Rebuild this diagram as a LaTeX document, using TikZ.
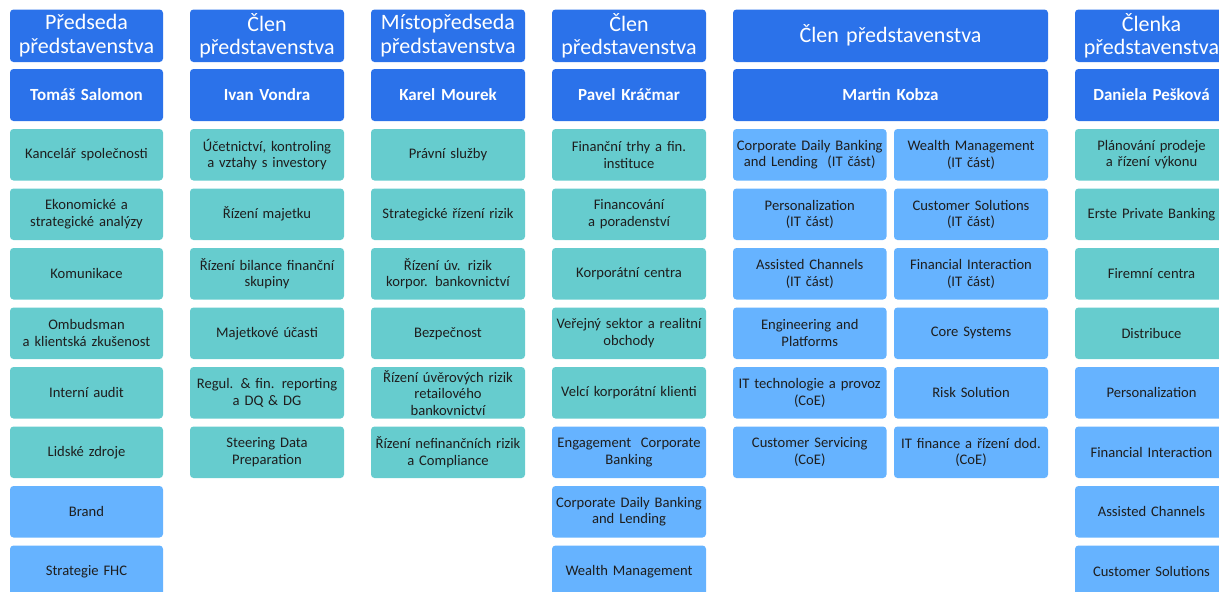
\documentclass[tikz,border=0pt]{standalone}
\usepackage{fontspec}
\setmainfont{Carlito}
\definecolor{hdblue}{RGB}{43,114,234}
\definecolor{teal}{RGB}{102,204,206}
\definecolor{lblue}{RGB}{102,179,255}
\definecolor{txt}{RGB}{30,30,30}
\tikzset{
  box/.style={rounded corners=3.5pt, inner sep=0pt, align=center, font=\fontsize{14.6}{16.6}\selectfont, text=txt},
  hdbox/.style={box, fill=hdblue, text=white, font=\fontsize{22}{23.5}\selectfont},
  namebox/.style={box, fill=hdblue, text=white, font=\fontsize{17}{19}\selectfont\bfseries},
  tbox/.style={box, fill=teal},
  lbox/.style={box, fill=lblue},
}
% \bx{name}{style}{left}{top}{width}{height}{text}
\newcommand{\bx}[7]{%
  \pgfmathsetmacro{\cxx}{#3+#5/2}\pgfmathsetmacro{\cyy}{#4+#6/2}\pgfmathsetmacro{\tw}{#5-4}%
  \node[#2, minimum width=#5pt, minimum height=#6pt, text width=\tw pt] (#1) at (\cxx,\cyy) {#7};}
\begin{document}
\begin{tikzpicture}[x=1pt,y=-1pt]
\useasboundingbox (0,0) rectangle (1219,592);
% headers
\bx{h1}{hdbox}{10}{9.5}{153}{52.5}{Předseda\\představenstva}
\bx{h2}{hdbox}{190}{9.5}{154}{52.5}{Člen\\představenstva}
\bx{h3}{hdbox}{371}{9.5}{154}{52.5}{Místopředseda\\představenstva}
\bx{h4}{hdbox}{552}{9.5}{154}{52.5}{Člen\\představenstva}
\bx{h5}{hdbox}{733}{9.5}{315}{52.5}{Člen představenstva}
\bx{h6}{hdbox}{1075}{9.5}{153}{52.5}{Členka\\představenstva}
% names
\bx{n1}{namebox}{10}{69}{153}{52}{Tomáš Salomon}
\bx{n2}{namebox}{190}{69}{154}{52}{Ivan Vondra}
\bx{n3}{namebox}{371}{69}{154}{52}{Karel Mourek}
\bx{n4}{namebox}{552}{69}{154}{52}{Pavel Kráčmar}
\bx{n5}{namebox}{733}{69}{315}{52}{Martin Kobza}
\bx{n6}{namebox}{1075}{69}{153}{52}{Daniela Pešková}
% column 1
\bx{a1}{tbox}{10}{129}{153}{51.5}{Kancelář společnosti}
\bx{a2}{tbox}{10}{188.5}{153}{51.5}{Ekonomické a\\strategické analýzy}
\bx{a3}{tbox}{10}{248}{153}{51.5}{Komunikace}
\bx{a4}{tbox}{10}{307.5}{153}{51.5}{Ombudsman\\a klientská zkušenost}
\bx{a5}{tbox}{10}{367}{153}{51.5}{Interní audit}
\bx{a6}{tbox}{10}{426.5}{153}{51.5}{Lidské zdroje}
\bx{a7}{lbox}{10}{486}{153}{51.5}{Brand}
\bx{a8}{lbox}{10}{545.5}{153}{51.5}{Strategie FHC}
% column 2
\bx{b1}{tbox}{190}{129}{154}{51.5}{Účetnictví, kontroling\\a vztahy s investory}
\bx{b2}{tbox}{190}{188.5}{154}{51.5}{Řízení majetku}
\bx{b3}{tbox}{190}{248}{154}{51.5}{Řízení bilance finanční\\skupiny}
\bx{b4}{tbox}{190}{307.5}{154}{51.5}{Majetkové účasti}
\bx{b5}{tbox}{190}{367}{154}{51.5}{Regul. \& fin. reporting\\a DQ \& DG}
\bx{b6}{tbox}{190}{426.5}{154}{51.5}{Steering Data\\Preparation}
% column 3
\bx{c1}{tbox}{371}{129}{154}{51.5}{Právní služby}
\bx{c2}{tbox}{371}{188.5}{154}{51.5}{Strategické řízení rizik}
\bx{c3}{tbox}{371}{248}{154}{51.5}{Řízení úv. rizik\\korpor. bankovnictví}
\bx{c4}{tbox}{371}{307.5}{154}{51.5}{Bezpečnost}
\bx{c5}{tbox}{371}{367}{154}{51.5}{Řízení úvěrových rizik\\retailového\\bankovnictví}
\bx{c6}{tbox}{371}{426.5}{154}{51.5}{Řízení nefinančních rizik\\a Compliance}
% column 4
\bx{d1}{tbox}{552}{129}{154}{51.5}{Finanční trhy a fin.\\instituce}
\bx{d2}{tbox}{552}{188.5}{154}{51.5}{Financování\\a poradenství}
\bx{d3}{tbox}{552}{248}{154}{51.5}{Korporátní centra}
\bx{d4}{tbox}{552}{307.5}{154}{51.5}{Veřejný sektor a realitní\\obchody}
\bx{d5}{tbox}{552}{367}{154}{51.5}{Velcí korporátní klienti}
\bx{d6}{lbox}{552}{426.5}{154}{51.5}{Engagement\ \ Corporate\\Banking}
\bx{d7}{lbox}{552}{486}{154}{51.5}{Corporate Daily Banking\\and Lending}
\bx{d8}{lbox}{552}{545.5}{154}{51.5}{Wealth Management}
% column 5a
\bx{e1}{lbox}{733}{129}{153.5}{51.5}{Corporate Daily Banking\\and Lending\ \ (IT část)}
\bx{e2}{lbox}{733}{188.5}{153.5}{51.5}{Personalization\\(IT část)}
\bx{e3}{lbox}{733}{248}{153.5}{51.5}{Assisted Channels\\(IT část)}
\bx{e4}{lbox}{733}{307.5}{153.5}{51.5}{Engineering and\\Platforms}
\bx{e5}{lbox}{733}{367}{153.5}{51.5}{IT technologie a provoz\\(CoE)}
\bx{e6}{lbox}{733}{426.5}{153.5}{51.5}{Customer Servicing\\(CoE)}
% column 5b
\bx{f1}{lbox}{894}{129}{154}{51.5}{Wealth Management\\(IT část)}
\bx{f2}{lbox}{894}{188.5}{154}{51.5}{Customer Solutions\\(IT část)}
\bx{f3}{lbox}{894}{248}{154}{51.5}{Financial Interaction\\(IT část)}
\bx{f4}{lbox}{894}{307.5}{154}{51.5}{Core Systems}
\bx{f5}{lbox}{894}{367}{154}{51.5}{Risk Solution}
\bx{f6}{lbox}{894}{426.5}{154}{51.5}{IT finance a řízení dod.\\(CoE)}
% column 6
\bx{g1}{tbox}{1075}{129}{153}{51.5}{Plánování prodeje\\a řízení výkonu}
\bx{g2}{tbox}{1075}{188.5}{153}{51.5}{Erste Private Banking}
\bx{g3}{tbox}{1075}{248}{153}{51.5}{Firemní centra}
\bx{g4}{tbox}{1075}{307.5}{153}{51.5}{Distribuce}
\bx{g5}{lbox}{1075}{367}{153}{51.5}{Personalization}
\bx{g6}{lbox}{1075}{426.5}{153}{51.5}{Financial Interaction}
\bx{g7}{lbox}{1075}{486}{153}{51.5}{Assisted Channels}
\bx{g8}{lbox}{1075}{545.5}{153}{51.5}{Customer Solutions}
\end{tikzpicture}
\end{document}
